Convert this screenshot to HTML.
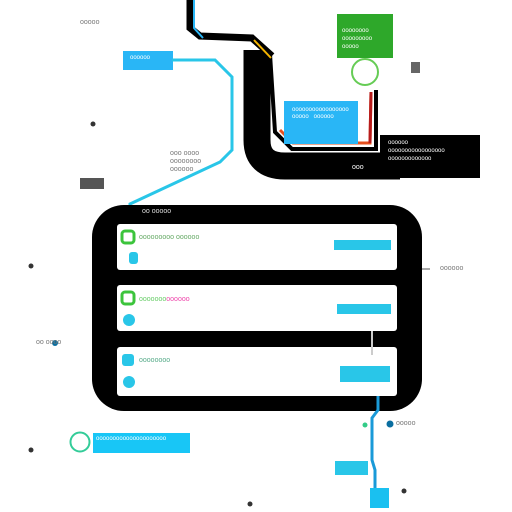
<!DOCTYPE html>
<html><head><meta charset="utf-8"><style>
body{margin:0;width:512px;height:512px;background:#fff;overflow:hidden;position:relative;font-family:"Liberation Sans",sans-serif}
.a{position:absolute}
.t{position:absolute;font-size:7px;color:#777;white-space:nowrap}
</style></head><body>
<svg class="a" style="left:0;top:0" width="512" height="512">
  <!-- top black route -->
  <path d="M190 0 L190 28 L200 36 L252 38 L272 56" fill="none" stroke="#000" stroke-width="7"/>
  <path d="M194 0 L194 28 L203 38" fill="none" stroke="#29b6f6" stroke-width="2"/>
  <path d="M257 50 L257 140 Q257 166 285 166 L400 166" fill="none" stroke="#000" stroke-width="27"/>
  <rect x="380" y="135" width="100" height="43" fill="#000"/>
  <path d="M270 54 L275 132 L292 149 L376 149 L376 90" fill="none" stroke="#000" stroke-width="4"/>
  <path d="M254 40 L271 58" stroke="#f4b400" stroke-width="2"/>
  <path d="M280 130 L293 143 L370 143 L371 92" fill="none" stroke="#e6501e" stroke-width="3"/>
  <path d="M370 143 L371 92" fill="none" stroke="#b71c1c" stroke-width="3"/>
  <rect x="284" y="101" width="74" height="43" fill="#29b6f6"/>
  <rect x="337" y="14" width="56" height="44" fill="#2ea82a"/>
  <circle cx="365" cy="72" r="13" fill="none" stroke="#66cc55" stroke-width="2"/>
  <rect x="411" y="62" width="9" height="11" fill="#666"/>
  <!-- cyan route -->
  <rect x="123" y="51" width="50" height="19" fill="#29b6f6"/>
  <path d="M172 60 L215 60 L232 77 L232 150 L220 162 L130 204 L130 225" fill="none" stroke="#29c6e8" stroke-width="3"/>
  <rect x="80" y="178" width="24" height="11" fill="#555"/>
  <!-- main panel -->
  <rect x="92" y="205" width="330" height="206" rx="32" fill="#000"/>
  <rect x="117" y="224" width="280" height="46" rx="3" fill="#fff"/>
  <rect x="117" y="285" width="280" height="46" rx="3" fill="#fff"/>
  <rect x="117" y="347" width="280" height="49" rx="3" fill="#fff"/>
  <rect x="122" y="231" width="12" height="12" rx="3" fill="none" stroke="#3cc43c" stroke-width="3"/>
  <rect x="129" y="252" width="9" height="12" rx="3" fill="#29c6e8"/>
  <rect x="122" y="292" width="12" height="12" rx="3" fill="none" stroke="#3cc43c" stroke-width="3"/>
  <circle cx="129" cy="320" r="6" fill="#29c6e8"/>
  <rect x="122" y="354" width="12" height="12" rx="3" fill="#29c6e8"/>
  <circle cx="129" cy="382" r="6" fill="#29c6e8"/>
  <rect x="334" y="240" width="57" height="10" fill="#29c6e8"/>
  <rect x="337" y="304" width="54" height="10" fill="#29c6e8"/>
  <rect x="340" y="366" width="50" height="16" fill="#29c6e8"/>
  <path d="M372 331 L372 355" stroke="#ccc" stroke-width="2"/>
  <path d="M422 269 L430 269" stroke="#555" stroke-width="1"/>
  <!-- bottom -->
  <path d="M378 396 L378 410 L372 418 L372 460 L375 470 L375 490" fill="none" stroke="#1a9ad8" stroke-width="3"/>
  <rect x="335" y="461" width="33" height="14" fill="#29c6e8"/>
  <rect x="370" y="488" width="19" height="20" fill="#1ac0f0"/>
  <circle cx="365" cy="425" r="2.5" fill="#3c8"/>
  <circle cx="390" cy="424" r="3.5" fill="#0a6ea0"/>
  <circle cx="80" cy="442" r="9.5" fill="none" stroke="#3c9" stroke-width="2"/>
  <rect x="93" y="433" width="97" height="20" fill="#18c6f6"/>
  <circle cx="31" cy="450" r="2.5" fill="#333"/>
  <circle cx="250" cy="504" r="2.5" fill="#333"/>
  <circle cx="404" cy="491" r="2.5" fill="#333"/>
  <circle cx="93" cy="124" r="2.5" fill="#333"/>
  <circle cx="31" cy="266" r="2.5" fill="#333"/>
  <circle cx="55" cy="343" r="3" fill="#0a6ea0"/>
</svg>
<div class="t" style="left:80px;top:19px">ooooo</div>
<div class="t" style="left:130px;top:55px;color:#fff;font-size:6px">oooooo</div>
<div class="t" style="left:170px;top:150px;line-height:8px">ooo oooo<br>oooooooo<br>oooooo</div>
<div class="t" style="left:342px;top:27px;color:#fff;font-size:6px;line-height:8px">oooooooo<br>ooooooooo<br>ooooo</div>
<div class="t" style="left:292px;top:107px;color:#fff;font-size:6px;line-height:7px">ooooooooooooooooo<br>ooooo &nbsp; oooooo</div>
<div class="t" style="left:388px;top:139px;color:#fff;font-size:6px;line-height:8px">oooooo<br>ooooooooooooooooo<br>ooooooooooooo</div>
<div class="t" style="left:352px;top:164px;color:#fff;font-size:7px">ooo</div>
<div class="t" style="left:142px;top:208px;color:#ddd">oo ooooo</div>
<div class="t" style="left:139px;top:234px;color:#6a6">ooooooooo oooooo</div>
<div class="t" style="left:139px;top:296px;color:#6c6">ooooooo<span style="color:#e4a">oooooo</span></div>
<div class="t" style="left:139px;top:357px;color:#5a8">oooooooo</div>
<div class="t" style="left:440px;top:265px">oooooo</div>
<div class="t" style="left:36px;top:339px">oo oooo</div>
<div class="t" style="left:396px;top:420px">ooooo</div>
<div class="t" style="left:96px;top:436px;color:#fff;font-size:6px">ooooooooooooooooooooo</div>
</body></html>
